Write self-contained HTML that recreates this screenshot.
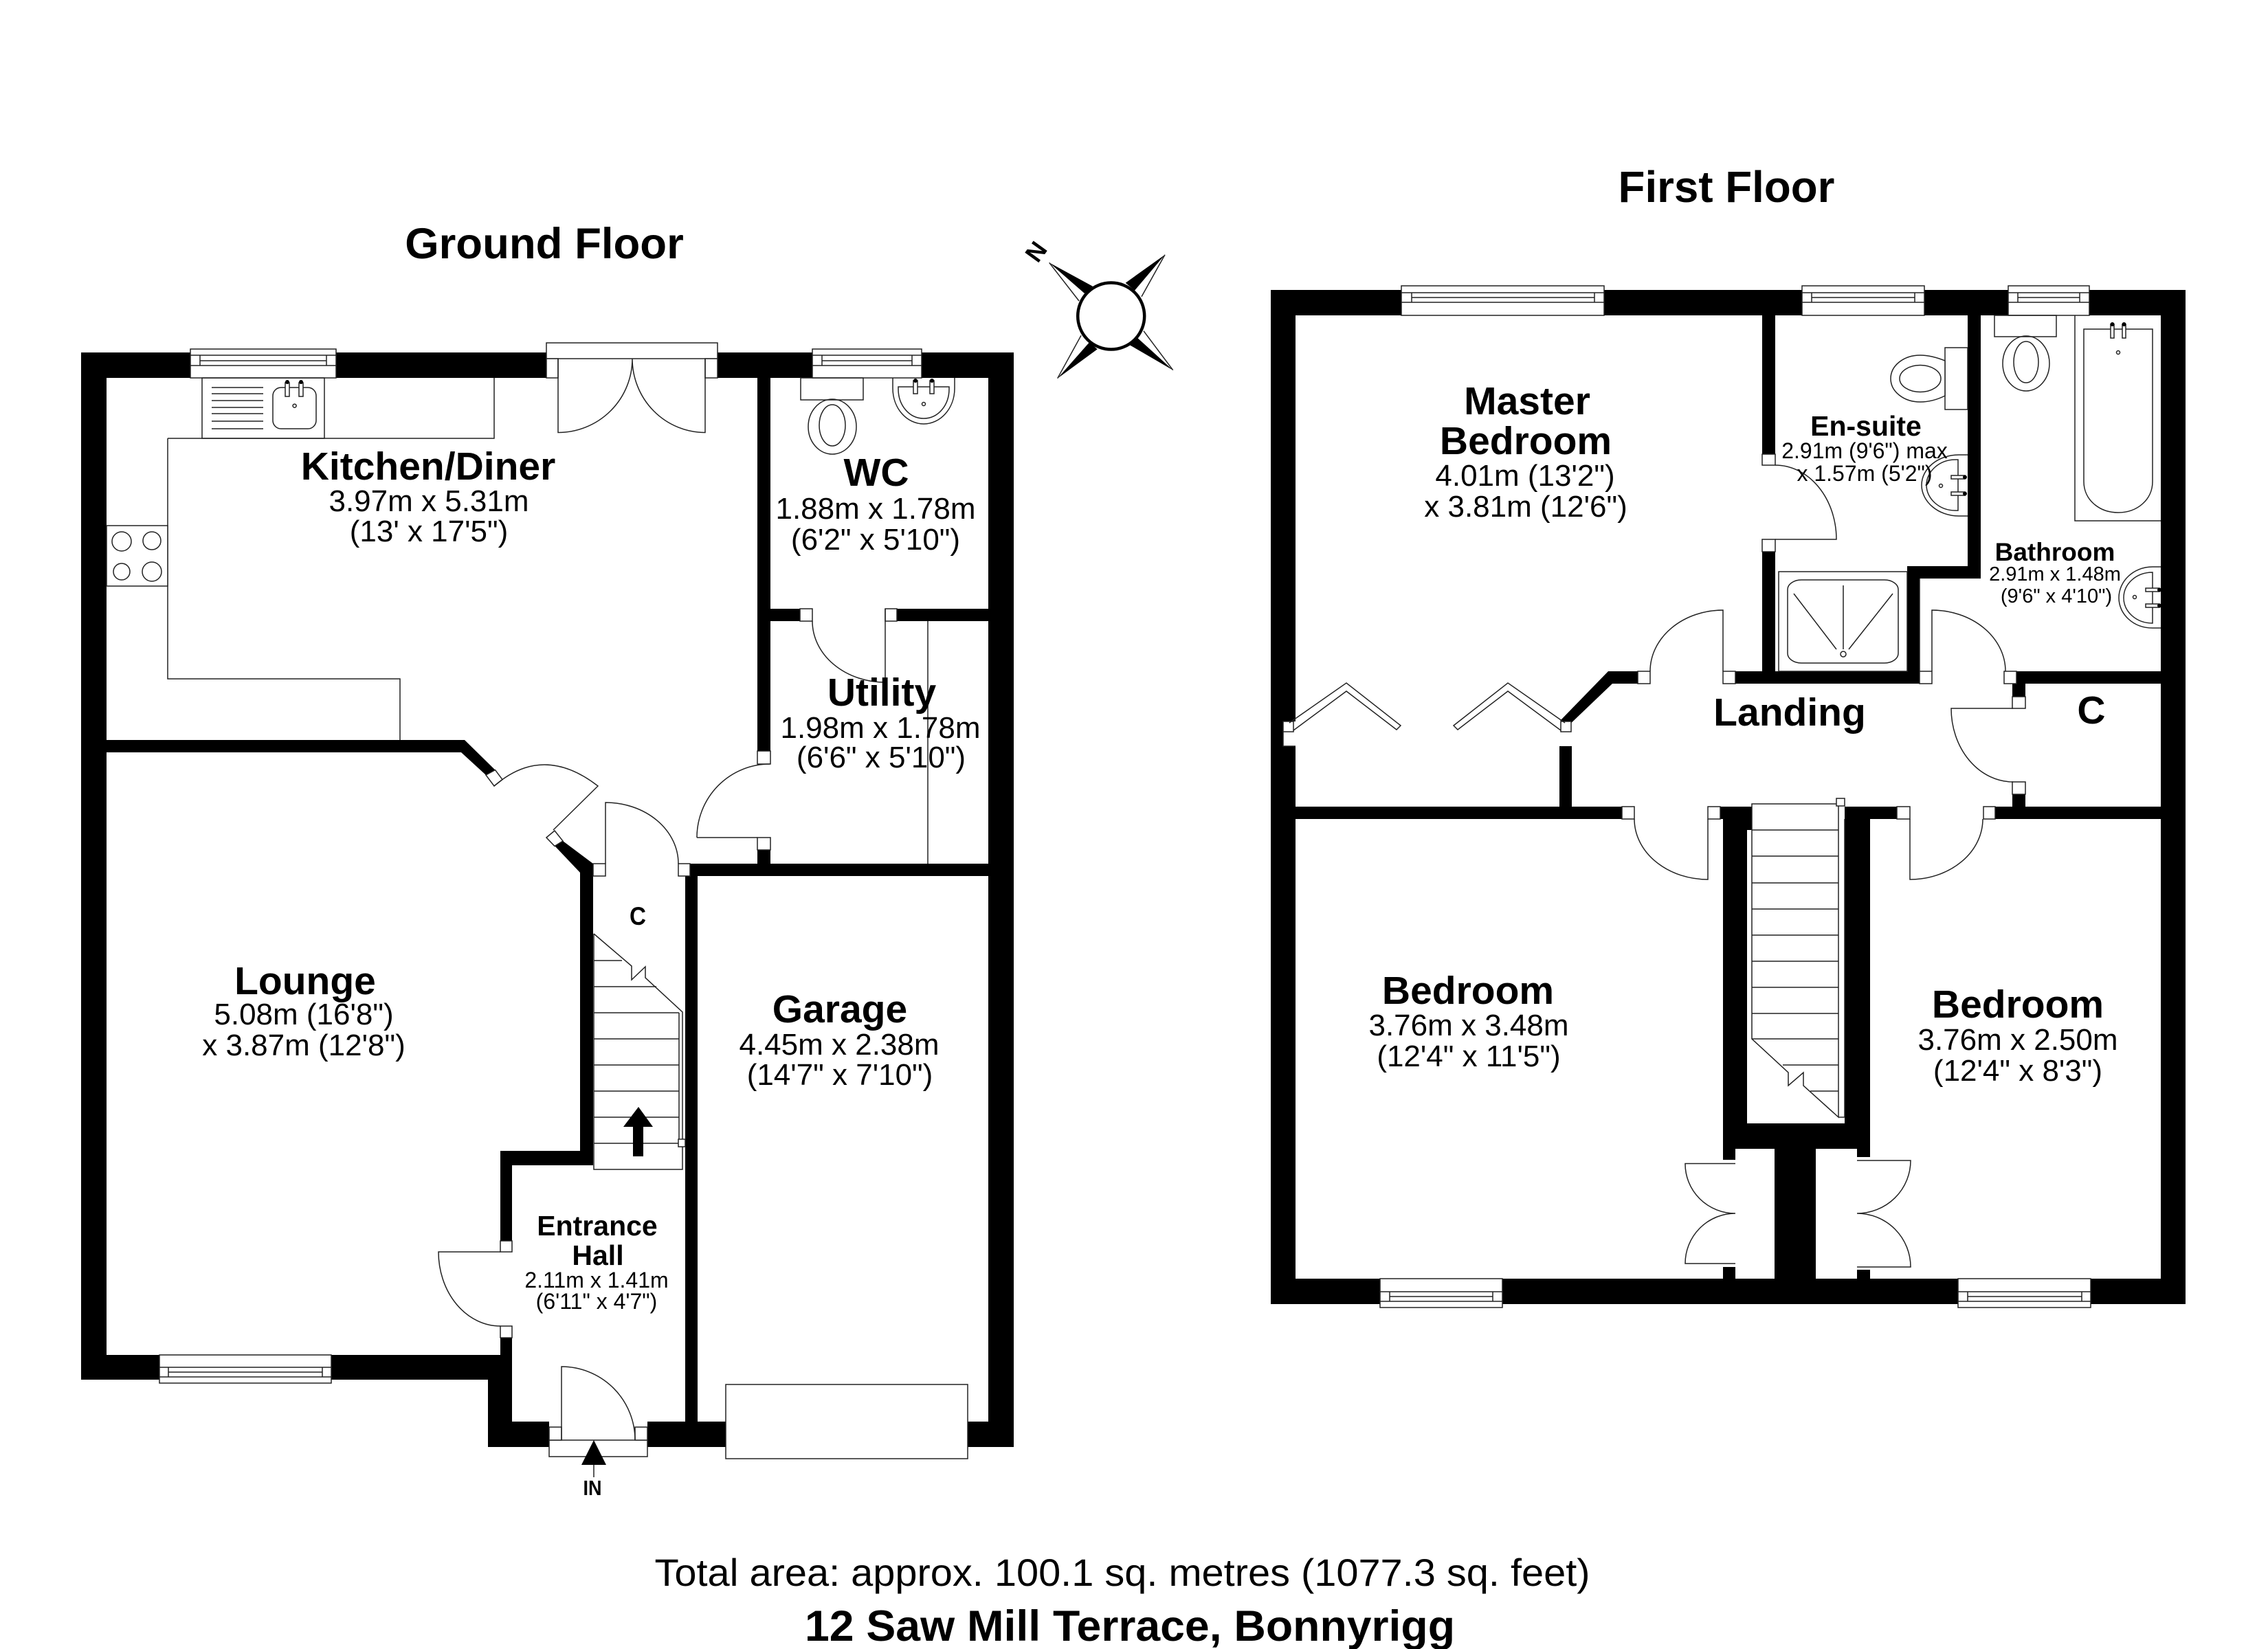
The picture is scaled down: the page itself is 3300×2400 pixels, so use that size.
<!DOCTYPE html>
<html><head><meta charset="utf-8"><title>Floor plan</title>
<style>
html,body{margin:0;padding:0;background:#fff}
svg{display:block}
text{font-family:"Liberation Sans",Arial,sans-serif;fill:#000;text-anchor:middle}
.b{font-weight:700}
.h{font-size:57px;font-weight:700}
.t{font-size:44px}
.j,.w{fill:#fff;stroke:#222;stroke-width:1.5}
.l{fill:none;stroke:#222;stroke-width:1.5}
.k{fill:#000;stroke:none}
</style></head><body>
<svg xmlns="http://www.w3.org/2000/svg" width="3300" height="2400" viewBox="0 0 3300 2400">
<rect width="3300" height="2400" fill="#fff"/>

<!-- GROUND FLOOR WALLS -->
<path class="k" d="M118 513H277V550H155V1972H728V1947H745V2069H799V2106H710V2008H118Z
M489 513H795V550H489Z
M1044 513H1475V2106H1408V2069H1438V1275H1015V2069H1056V2106H942V2069H997V1275H1004V1257H1102V1237H1121V1257H1438V904H1305V886H1438V550H1121V886H1164V904H1121V1093H1102V550H1044Z
M155 1077H676L720.5 1120.6L707 1128L671 1095H155Z
M807 1231L819 1224L863 1257V1696H745V1806H728V1675H844V1270Z"/>

<!-- ground windows -->
<g>
<rect class="w" x="277" y="508" width="212" height="42"/><path class="l" d="M277 517H489M277 532H489M291 517V532M475 517V532M291 525H475"/>
<rect class="w" x="1182" y="508" width="159" height="42"/><path class="l" d="M1182 517H1341M1182 532H1341M1196 517V532M1327 517V532M1196 525H1327"/>
<rect class="w" x="232" y="1972" width="250" height="41"/><path class="l" d="M232 1990H482M232 2004H482M245 1990V2004M469 1990V2004M245 1997H469"/>
</g>

<!-- french doors -->
<rect class="w" x="795" y="499" width="249" height="23"/>
<rect class="j" x="795" y="522" width="17" height="28"/><rect class="j" x="1026" y="522" width="18" height="28"/>
<path class="l" d="M812 522V629.5A108 107.5 0 0 0 920 522M1026 522V629.5A106 107.5 0 0 1 920 522"/>

<!-- kitchen fittings -->
<path class="l" d="M244 638H719V550M244 638V988H582V1077"/>
<rect class="l" x="294" y="550" width="178" height="88"/>
<path class="l" d="M308 564H383M308 573H383M308 583H383M308 593H383M308 602H383M308 613H383M308 624H383"/>
<rect class="l" x="397" y="564" width="63" height="60" rx="12"/>
<rect class="w" x="415" y="557" width="6" height="20"/><rect class="w" x="435" y="557" width="6" height="20"/>
<circle class="k" cx="418" cy="556" r="3"/><circle class="k" cx="438" cy="556" r="3"/>
<circle class="l" cx="428.6" cy="590.6" r="2.5"/>
<rect class="w" x="155" y="765" width="89" height="88"/>
<circle class="l" cx="177" cy="788" r="14"/><circle class="l" cx="221" cy="787" r="13"/><circle class="l" cx="177" cy="832" r="12"/><circle class="l" cx="221" cy="832" r="14"/>

<!-- WC fittings -->
<rect class="l" x="1165" y="550" width="91" height="32"/>
<ellipse class="l" cx="1211" cy="621" rx="35" ry="40"/><ellipse class="l" cx="1211" cy="619" rx="19" ry="30"/>
<path class="l" d="M1299 550V565C1299 595 1320 617 1344 617C1368 617 1389 595 1389 565V550"/>
<path class="l" d="M1307 563H1381V566C1381 590 1365 609 1344 609C1323 609 1307 590 1307 566Z"/>
<rect class="w" x="1329" y="554" width="6" height="19"/><rect class="w" x="1353" y="554" width="6" height="19"/>
<circle class="k" cx="1332" cy="554" r="3"/><circle class="k" cx="1356" cy="554" r="3"/>
<circle class="l" cx="1344" cy="588" r="2.5"/>

<!-- WC/Utility door + jambs -->
<rect class="j" x="1164" y="886" width="18" height="18"/><rect class="j" x="1288" y="886" width="17" height="18"/>
<path class="l" d="M1288 886V993M1182 904A106 89 0 0 0 1288 993M1350 904V1257"/>
<rect class="j" x="1102" y="1093" width="19" height="19"/><rect class="j" x="1102" y="1219" width="19" height="18"/>
<path class="l" d="M1014 1219H1102M1014 1219A106 107 0 0 1 1120 1112"/>

<!-- lounge door -->
<path class="j" d="M707 1128L720.5 1120.6L731 1134.6L719 1144Z"/>
<path class="j" d="M795 1219L807 1209L819 1224L807 1231.5Z"/>
<path class="l" d="M719 1144Q790 1082 870 1144L805 1208"/>

<!-- cupboard door -->
<rect class="j" x="863" y="1257" width="18" height="18"/><rect class="j" x="987" y="1257" width="17" height="18"/>
<path class="l" d="M881 1257V1168A106 89 0 0 1 987 1257"/>

<!-- ground stairs -->
<path class="l" d="M864 1359V1702H993V1473L939 1423V1407L919 1426V1406L864 1359"/>
<path class="l" d="M864 1398H905M864 1436H955M864 1474H988M864 1512H988M864 1550H988M864 1588H988M864 1626H988M864 1664H988M988 1474V1658"/>
<rect class="j" x="987" y="1658" width="10" height="11"/>
<path class="k" d="M929 1611L950 1640H936V1683H921V1640H907Z"/>

<!-- hall door -->
<rect class="j" x="728" y="1806" width="17" height="16"/><rect class="j" x="728" y="1930" width="17" height="17"/>
<path class="l" d="M728 1822H638A90 108 0 0 0 728 1930"/>

<!-- entrance -->
<rect class="w" x="799" y="2096" width="143" height="24"/>
<rect class="j" x="799" y="2077" width="18" height="19"/><rect class="j" x="924" y="2077" width="18" height="19"/>
<path class="l" d="M817 2096V1989A107 107 0 0 1 924 2096"/>
<path class="k" d="M864 2096L882 2132H846Z"/><path class="l" d="M864 2132V2150"/>

<!-- garage door -->
<rect class="w" x="1056" y="2015" width="352" height="108"/>

<!-- FIRST FLOOR WALLS -->
<path class="k" d="M1849 422H2039V459H1885V1050H1867V1086H1885V1861H2507V1844H2525V1861H2582V1672H2525V1688H2507V1192H2503V1174H2549V1208H2542V1635H2684V1192H2721V1672H2642V1861H2702V1848H2721V1861H3144V459H3040V422H3180V1898H1849Z
M2334 422H2622V459H2583V661H2564V459H2334Z
M2800 422H2922V459H2882V842H2793V995H2525V977H2564V803H2583V977H2775V824H2863V459H2800Z
M2934 977H3144V995H2947V1014H2928V995H2934Z
M2928 1156H2947V1174H3144V1192H2903V1174H2928Z
M1885 1174H2269V1086H2287V1174H2360V1192H1885Z
M2684 1174H2760V1192H2684Z
M2702 1672H2721V1684H2702Z
M2340 977H2383V995H2346L2286.4 1052L2270 1049Z"/>

<!-- first windows -->
<g>
<rect class="w" x="2039" y="416" width="295" height="43"/><path class="l" d="M2039 426H2334M2039 440H2334M2054 426V440M2320 426V440M2054 433H2320"/>
<rect class="w" x="2622" y="416" width="178" height="43"/><path class="l" d="M2622 426H2800M2622 440H2800M2636 426V440M2786 426V440M2636 433H2786"/>
<rect class="w" x="2922" y="416" width="118" height="43"/><path class="l" d="M2922 426H3040M2922 440H3040M2936 426V440M3026 426V440M2936 433H3026"/>
<rect class="w" x="2008" y="1861" width="178" height="42"/><path class="l" d="M2008 1880H2186M2008 1894H2186M2022 1880V1894M2172 1880V1894M2022 1887H2172"/>
<rect class="w" x="2849" y="1861" width="193" height="42"/><path class="l" d="M2849 1880H3042M2849 1894H3042M2863 1880V1894M3029 1880V1894M2863 1887H3029"/>
</g>

<!-- en-suite fittings -->
<rect class="l" x="2830" y="506" width="33" height="90"/>
<path class="w" d="M2830 525C2820 521 2808 517 2794 517C2770 517 2751 532 2751 551C2751 570 2770 585 2794 585C2808 585 2820 581 2830 576Z"/>
<ellipse class="l" cx="2794" cy="551" rx="30" ry="19.5"/>
<path class="l" d="M2863 662H2850C2820 662 2796 682 2796 706C2796 730 2820 751 2850 751H2863"/>
<path class="l" d="M2849 669H2845C2822 669 2803 686 2803 706C2803 726 2822 743 2845 743H2849Z"/>
<rect class="w" x="2839" y="692" width="20" height="5"/><rect class="w" x="2839" y="716" width="20" height="5"/>
<circle class="k" cx="2859" cy="694.5" r="3"/><circle class="k" cx="2859" cy="718.5" r="3"/>
<circle class="l" cx="2824" cy="707" r="2.5"/>
<rect class="j" x="2564" y="661" width="19" height="16"/><rect class="j" x="2564" y="785" width="19" height="18"/>
<path class="l" d="M2583 785H2672A89 108 0 0 0 2583 677"/>
<!-- shower -->
<rect class="w" x="2588" y="832" width="187" height="145"/>
<rect class="l" x="2601" y="844" width="161" height="121" rx="20" ry="14"/>
<path class="l" d="M2682 852V945M2610 864L2672 945M2754 864L2690 945"/>
<circle class="l" cx="2682" cy="952" r="4"/>

<!-- bathroom fittings -->
<rect class="l" x="2902" y="459" width="90" height="31"/>
<ellipse class="l" cx="2948" cy="529" rx="34" ry="40"/><ellipse class="l" cx="2948" cy="527" rx="18" ry="30"/>
<path class="l" d="M3144 758H3019V459"/>
<path class="l" d="M3032 479H3132V701C3132 727 3110 746 3082 746C3054 746 3032 727 3032 701Z"/>
<rect class="w" x="3071" y="472" width="5" height="20"/><rect class="w" x="3088" y="472" width="5" height="20"/>
<circle class="k" cx="3073.5" cy="472" r="3"/><circle class="k" cx="3090.5" cy="472" r="3"/>
<circle class="l" cx="3082" cy="513" r="2.5"/>
<path class="l" d="M3144 825H3132C3104 825 3083 846 3083 870C3083 894 3104 914 3132 914H3144"/>
<path class="l" d="M3132 833C3108 833 3090 850 3090 870C3090 890 3108 907 3132 907V833Z"/>
<rect class="w" x="3122" y="856" width="20" height="5"/><rect class="w" x="3122" y="879" width="20" height="5"/>
<circle class="k" cx="3142" cy="858.5" r="3"/><circle class="k" cx="3142" cy="881.5" r="3"/>
<circle class="l" cx="3106" cy="869" r="2.5"/>

<!-- landing doors -->
<rect class="j" x="2383" y="977" width="18" height="18"/><rect class="j" x="2507" y="977" width="18" height="18"/>
<path class="l" d="M2507 977V888A106 89 0 0 0 2401 977"/>
<rect class="j" x="2793" y="977" width="18" height="18"/><rect class="j" x="2916" y="977" width="18" height="18"/>
<path class="l" d="M2793 977V842M2811 977V888A107 89 0 0 1 2918 977"/>
<rect class="j" x="2928" y="1014" width="19" height="17"/><rect class="j" x="2928" y="1138" width="19" height="18"/>
<path class="l" d="M2929 1031H2839A90 107 0 0 0 2929 1138"/>
<rect class="j" x="2360" y="1174" width="18" height="18"/><rect class="j" x="2485" y="1174" width="18" height="18"/>
<path class="l" d="M2485 1192V1280A107 88 0 0 1 2378 1192"/>
<rect class="j" x="2760" y="1174" width="19" height="18"/><rect class="j" x="2886" y="1174" width="17" height="18"/>
<path class="l" d="M2779 1192V1280A106 88 0 0 0 2885 1192"/>

<!-- bifolds -->
<rect class="j" x="1867" y="1050" width="15" height="15"/><rect class="j" x="2271" y="1050" width="15" height="15"/>
<path class="l" d="M1876 1052L1959 994L2038 1056L2032 1062L1959 1006L1882 1063"/>
<path class="l" d="M2277 1052L2194 994L2115 1056L2121 1062L2194 1006L2271 1063"/>
<path class="l" d="M1867 1065V1086H1885"/>

<!-- first stairs -->
<path class="l" d="M2549 1170H2675V1626L2624 1580V1561L2602 1580V1561L2549 1512Z"/>
<path class="l" d="M2549 1208H2675M2549 1246H2675M2549 1285H2675M2549 1323H2675M2549 1361H2675M2549 1399H2675M2549 1437H2675M2549 1475H2675M2549 1512H2675M2594 1550H2675M2634 1588H2675M2684 1192V1626H2675"/>
<rect class="j" x="2672" y="1162" width="12" height="11"/>

<!-- wardrobe doors -->
<path class="l" d="M2525 1693.5H2452A73 72 0 0 0 2525 1766A73 73 0 0 0 2452 1839H2525"/>
<path class="l" d="M2702 1689H2780A78 77 0 0 1 2702 1766A78 78 0 0 1 2780 1844H2702"/>

<!-- compass -->
<path class="k" d="M1526.7 382.3L1590 416.7L1578 427Z"/><path class="l" d="M1526.7 382.3L1570 438"/>
<path class="k" d="M1695 370.7L1637.7 411.7L1651 422.7Z"/><path class="l" d="M1695 370.7L1661 431.7"/>
<path class="k" d="M1706.7 538.7L1643 501.7L1655 491.7Z"/><path class="l" d="M1706.7 538.7L1664 481.7"/>
<path class="k" d="M1538.7 550.7L1596.7 508.3L1585 498.3Z"/><path class="l" d="M1538.7 550.7L1573 488.3"/>
<circle cx="1616.7" cy="460" r="48.5" fill="#fff" stroke="#000" stroke-width="4.5"/>
<text class="b" font-size="36" transform="translate(1507 366) rotate(-54)" y="13">N</text>

<!-- TEXT -->
<text class="b" font-size="63.5" x="792" y="376">Ground Floor</text>
<text class="b" font-size="63.7" x="2512" y="294">First Floor</text>

<text class="h" x="623" y="698">Kitchen/Diner</text>
<text class="t" x="624" y="744">3.97m x 5.31m</text>
<text class="t" x="624" y="788">(13' x 17'5")</text>

<text class="h" x="1275" y="707">WC</text>
<text class="t" x="1274" y="755">1.88m x 1.78m</text>
<text class="t" x="1274" y="800">(6'2" x 5'10")</text>

<text class="h" x="1283" y="1027">Utility</text>
<text class="t" x="1281" y="1074">1.98m x 1.78m</text>
<text class="t" x="1282" y="1117">(6'6" x 5'10")</text>

<text class="h" x="444" y="1447">Lounge</text>
<text class="t" x="442" y="1491">5.08m (16'8")</text>
<text class="t" x="442" y="1536">x 3.87m (12'8")</text>

<text class="h" x="1222" y="1488">Garage</text>
<text class="t" x="1221" y="1535">4.45m x 2.38m</text>
<text class="t" x="1222" y="1579">(14'7" x 7'10")</text>

<text class="b" font-size="37" x="928" y="1346" textLength="24" lengthAdjust="spacingAndGlyphs">C</text>
<text class="b" font-size="41" x="869" y="1798">Entrance</text>
<text class="b" font-size="41" x="870" y="1841">Hall</text>
<text font-size="32" x="868" y="1874">2.11m x 1.41m</text>
<text font-size="32" x="868" y="1905">(6'11" x 4'7")</text>
<text class="b" font-size="31" x="862" y="2176" textLength="27" lengthAdjust="spacingAndGlyphs">IN</text>

<text class="h" x="2222" y="603">Master</text>
<text class="h" x="2220" y="661">Bedroom</text>
<text class="t" x="2219" y="707">4.01m (13'2")</text>
<text class="t" x="2220" y="752">x 3.81m (12'6")</text>

<text class="b" font-size="41" x="2715" y="634">En-suite</text>
<text font-size="32" x="2713" y="667">2.91m (9'6") max</text>
<text font-size="32" x="2713" y="700">x 1.57m (5'2")</text>

<text class="b" font-size="37" x="2990" y="816">Bathroom</text>
<text font-size="29" x="2990" y="845">2.91m x 1.48m</text>
<text font-size="29" x="2992" y="877">(9'6" x 4'10")</text>

<text class="h" x="2604" y="1056">Landing</text>
<text class="h" x="3043" y="1053">C</text>

<text class="h" x="2136" y="1461">Bedroom</text>
<text class="t" x="2137" y="1507">3.76m x 3.48m</text>
<text class="t" x="2137" y="1552">(12'4" x 11'5")</text>

<text class="h" x="2936" y="1481">Bedroom</text>
<text class="t" x="2936" y="1528">3.76m x 2.50m</text>
<text class="t" x="2936" y="1573">(12'4" x 8'3")</text>

<text font-size="56" x="1633" y="2308" textLength="1361" lengthAdjust="spacingAndGlyphs">Total area: approx. 100.1 sq. metres (1077.3 sq. feet)</text>
<text class="b" font-size="63" x="1644" y="2388" textLength="946" lengthAdjust="spacingAndGlyphs">12 Saw Mill Terrace, Bonnyrigg</text>
</svg>
</body></html>
